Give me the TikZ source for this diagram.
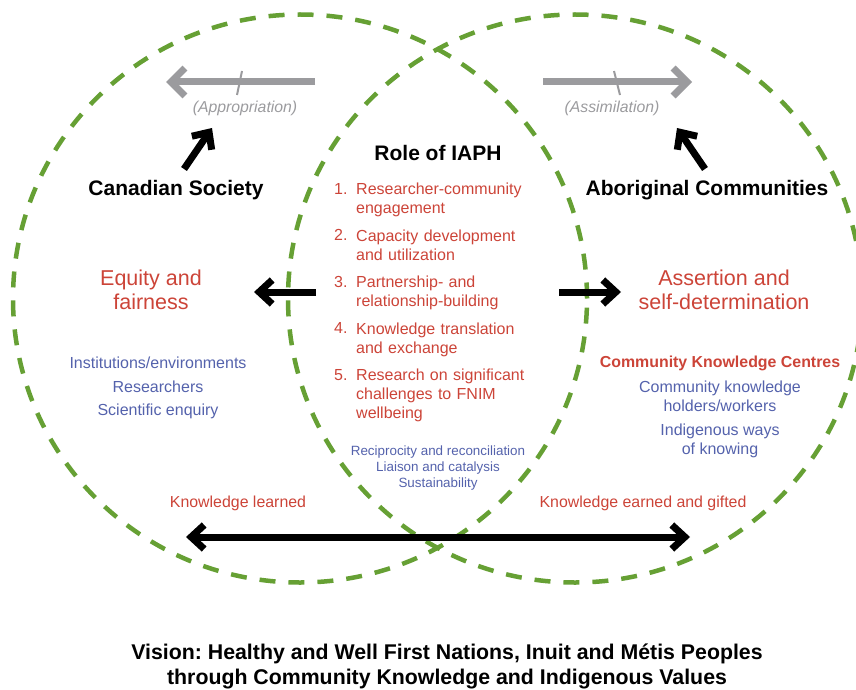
\documentclass[tikz,border=0pt]{standalone}
\usepackage{fontspec}
\setmainfont{Liberation Sans}
\usetikzlibrary{arrows.meta}
\frenchspacing
\definecolor{ringgreen}{RGB}{102,160,52}
\definecolor{rolered}{RGB}{204,68,56}
\definecolor{itemblue}{RGB}{84,98,172}
\definecolor{flowgray}{RGB}{155,155,158}
\tikzset{
  ring/.style={draw=ringgreen, line width=4.5pt, dash pattern=on 16pt off 13pt},
  heading/.style={font=\bfseries\fontsize{21}{24}\selectfont, text=black},
  redbig/.style={font=\fontsize{21.5}{24}\selectfont, text=rolered, align=center},
  reditem/.style={font=\fontsize{16}{19}\selectfont, text=rolered, align=left, anchor=north west, text width=230pt, inner sep=0pt},
  itemnum/.style={font=\fontsize{16}{19}\selectfont, text=rolered, anchor=north west, inner sep=0pt},
  bluetxt/.style={font=\fontsize{16}{19}\selectfont, text=itemblue, align=center},
  bluesmall/.style={font=\fontsize{13.4}{16}\selectfont, text=itemblue, align=center},
  redtxt/.style={font=\fontsize{15.9}{19}\selectfont, text=rolered, align=center},
  graytxt/.style={font=\itshape\fontsize{15.8}{18}\selectfont, text=flowgray},
  grayflow/.style={draw=flowgray, line width=7pt, -{Straight Barb[length=14pt,width=28pt]}},
  grayflowtick/.style={draw=flowgray, line width=2pt},
  blackflow/.style={draw=black, line width=7pt, -{Straight Barb[length=13pt,width=24pt]}},
  blackboth/.style={draw=black, line width=7pt, {Straight Barb[length=13pt,width=24pt]}-{Straight Barb[length=13pt,width=24pt]}},
}
\begin{document}
\begin{tikzpicture}[x=1pt,y=-1pt]
\useasboundingbox (0,0) rectangle (856,690);
\begin{scope}
\clip (0,0) rectangle (856,690);
% the two overlapping dashed rings
\draw[ring] (300,298.5) ellipse [x radius=287pt, y radius=284pt];
\draw[ring] (575,298.5) ellipse [x radius=287pt, y radius=284pt];
\end{scope}

% gray flow arrows at the top
\coordinate (apS) at (315,82);
\coordinate (apE) at (166,82);
\draw[grayflow] (apS) -- (apE);
\coordinate (apT1) at (242,71);
\coordinate (apT2) at (237,95);
\draw[grayflowtick] (apT1) -- (apT2);
\node[graytxt] (approp) at (245,108) {(Appropriation)};

\coordinate (asS) at (543,82);
\coordinate (asE) at (692,82);
\draw[grayflow] (asS) -- (asE);
\coordinate (asT1) at (614,71);
\coordinate (asT2) at (620,95);
\draw[grayflowtick] (asT1) -- (asT2);
\node[graytxt] (assim) at (612,108) {(Assimilation)};

% headings
\node[heading] (canada) at (176,190) {Canadian Society};
\node[heading] (aborig) at (707,190) {Aboriginal Communities};
\node[heading] (role) at (438,153) {Role of IAPH};

% black arrows from headings up to the gray flows
\coordinate (cuS) at (184,169);
\coordinate (cuE) at (212,128);
\draw[blackflow] (cuS) -- (cuE);
\coordinate (auS) at (705,169);
\coordinate (auE) at (677,128);
\draw[blackflow] (auS) -- (auE);

% role list
\node[itemnum] (n1) at (334,183) {1.};
\node[reditem] (i1) at (356,183) {Researcher-community\\engagement};
\node[itemnum] (n2) at (334,229.5) {2.};
\node[reditem] (i2) at (356,229.5) {Capacity development\\and utilization};
\node[itemnum] (n3) at (334,276) {3.};
\node[reditem] (i3) at (356,276) {Partnership- and\\relationship-building};
\node[itemnum] (n4) at (334,322.5) {4.};
\node[reditem] (i4) at (356,322.5) {Knowledge translation\\and exchange};
\node[itemnum] (n5) at (334,369) {5.};
\node[reditem] (i5) at (356,369) {Research on significant\\challenges to FNIM\\wellbeing};

\node[bluesmall] (princ) at (438,468.5) {Reciprocity and reconciliation\\Liaison and catalysis\\Sustainability};

% outcomes on each side
\node[redbig] (equity) at (151,290) {Equity and\\fairness};
\node[redbig] (assert) at (724,290) {Assertion and\\self-determination};

\coordinate (lS) at (316,292);
\coordinate (lE) at (254,292);
\draw[blackflow] (lS) -- (lE);
\coordinate (rS) at (559,292);
\coordinate (rE) at (621,292);
\draw[blackflow] (rS) -- (rE);

% left side contents
\node[bluetxt] (inst) at (158,363) {Institutions/environments};
\node[bluetxt] (resr) at (158,387) {Researchers};
\node[bluetxt] (scie) at (158,411) {Scientific enquiry};

% right side contents
\node[font=\bfseries\fontsize{15.9}{19}\selectfont, text=rolered] (ckc) at (720,363) {Community Knowledge Centres};
\node[bluetxt] (ckh) at (720,396.5) {Community knowledge\\holders/workers};
\node[bluetxt] (iwk) at (720,440.5) {Indigenous ways\\of knowing};

% knowledge exchange along the bottom
\node[redtxt] (klearn) at (238,503) {Knowledge learned};
\node[redtxt] (kearn) at (643,503) {Knowledge earned and gifted};
\coordinate (bL) at (186,537);
\coordinate (bR) at (690,537);
\draw[blackboth] (bL) -- (bR);

% vision statement
\node[font=\bfseries\fontsize{21.3}{25}\selectfont, align=center] (vision) at (447,666)
  {Vision: Healthy and Well First Nations, Inuit and Métis Peoples\\through Community Knowledge and Indigenous Values};
\end{tikzpicture}
\end{document}
